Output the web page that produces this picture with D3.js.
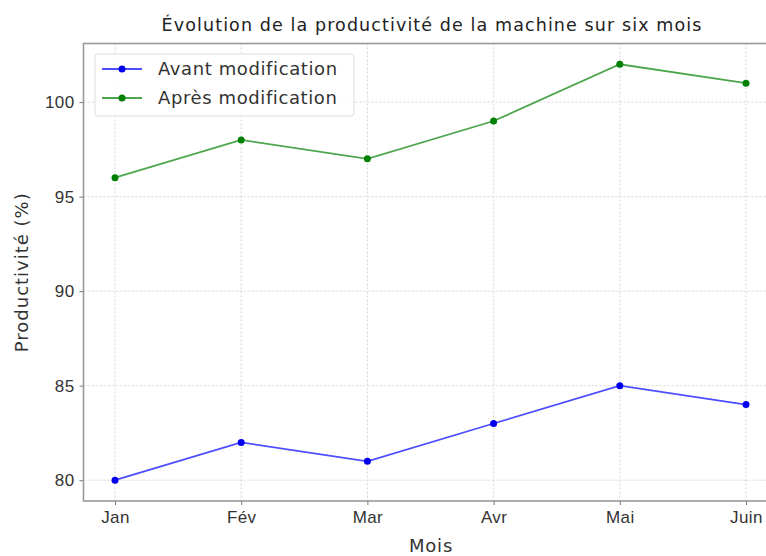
<!DOCTYPE html>
<html>
<head>
<meta charset="utf-8">
<script src="https://cdn.jsdelivr.net/npm/d3@7"></script>
<style>
  body { margin: 0; background: #fff; }
  svg { font-family: "DejaVu Sans", "Noto Sans", sans-serif; }
</style>
</head>
<body>
<div id="chart"></div>
<script>
// data
var months = ["Jan", "Fév", "Mar", "Avr", "Mai", "Juin"]
var avant = [80, 82, 81, 83, 85, 84]
var apres = [96, 98, 97, 99, 102, 101]
var yTicks = [80, 85, 90, 95, 100]

var series = [
  {name: "Avant modification", values: avant, line: "#4d4dff", dot: "#0000ee"},
  {name: "Après modification", values: apres, line: "#4da64d", dot: "#008000"}
]

var W = 766, H = 556
// plot box (window.top is reserved, so use plot* names)
var plotL = 83.5, plotR = 777.5, plotT = 43.5, plotB = 501

var svg = d3.select("#chart").append("svg")
    .attr("width", W)
    .attr("height", H)

// scales
var x = d3.scalePoint().domain(months).range([115, 746])
var y = d3.scaleLinear().domain([78.9, 103.1]).range([plotB, plotT])

// grid
svg.append("g").selectAll("line")
    .data(months)
    .enter().append("line")
    .attr("x1", function(d) { return x(d) }).attr("x2", function(d) { return x(d) })
    .attr("y1", plotT).attr("y2", plotB)
    .style("stroke", "#ccc").style("stroke-width", 0.8).style("stroke-dasharray", "2,2")

svg.append("g").selectAll("line")
    .data(yTicks)
    .enter().append("line")
    .attr("x1", plotL).attr("x2", plotR)
    .attr("y1", function(d) { return y(d) }).attr("y2", function(d) { return y(d) })
    .style("stroke", "#ccc").style("stroke-width", 0.8).style("stroke-dasharray", "2,2")

// axes
var xAxis = svg.append("g")
    .attr("transform", "translate(0," + plotB + ")")
    .call(d3.axisBottom(x).tickSize(4).tickPadding(6))
var yAxis = svg.append("g")
    .attr("transform", "translate(" + plotL + ",0)")
    .call(d3.axisLeft(y).tickValues(yTicks).tickSize(4).tickPadding(5))

;[xAxis, yAxis].forEach(function(a) {
  a.select(".domain").remove()
  a.selectAll(".tick line").style("stroke", "#777")
  a.selectAll(".tick text").style("font-size", "17px").style("fill", "#333")
      .style("letter-spacing", "0.4px")
})

// frame
svg.append("rect")
    .attr("x", plotL).attr("y", plotT)
    .attr("width", plotR - plotL).attr("height", plotB - plotT)
    .style("fill", "none").style("stroke", "#999").style("stroke-width", 1.6)

// lines
var line = d3.line()
    .x(function(d, i) { return x(months[i]) })
    .y(function(d) { return y(d) })

series.forEach(function(s) {
  svg.append("path")
      .datum(s.values)
      .attr("d", line)
      .style("fill", "none").style("stroke", s.line).style("stroke-width", 1.8)
  svg.append("g").selectAll("circle")
      .data(s.values)
      .enter().append("circle")
      .attr("cx", function(d, i) { return x(months[i]) })
      .attr("cy", function(d) { return y(d) })
      .attr("r", 3.5)
      .style("fill", s.dot)
})

// legend
var legend = svg.append("g")
legend.append("rect")
    .attr("x", 95).attr("y", 54).attr("width", 259).attr("height", 62).attr("rx", 3)
    .style("fill", "#fff").style("fill-opacity", 0.8).style("stroke", "#ddd")
series.forEach(function(s, i) {
  var ly = 69 + i * 29
  legend.append("line")
      .attr("x1", 102).attr("x2", 142).attr("y1", ly).attr("y2", ly)
      .style("stroke", s.line).style("stroke-width", 1.8)
  legend.append("circle")
      .attr("cx", 122).attr("cy", ly).attr("r", 3.5).style("fill", s.dot)
  legend.append("text")
      .attr("x", 158).attr("y", ly).attr("dy", "0.35em")
      .style("font-size", "18px").style("fill", "#333")
      .style("letter-spacing", "0.6px")
      .text(s.name)
})

// titles
svg.append("text")
    .attr("x", 432).attr("y", 31)
    .attr("text-anchor", "middle")
    .style("font-size", "17.5px").style("fill", "#222")
    .style("letter-spacing", "1.1px")
    .text("Évolution de la productivité de la machine sur six mois")

svg.append("text")
    .attr("x", 431).attr("y", 552)
    .attr("text-anchor", "middle")
    .style("font-size", "18px").style("fill", "#333")
    .style("letter-spacing", "0.8px")
    .text("Mois")

svg.append("text")
    .attr("transform", "translate(28," + ((plotT + plotB) / 2) + ") rotate(-90)")
    .attr("text-anchor", "middle")
    .style("font-size", "18px").style("fill", "#333")
    .style("letter-spacing", "1px")
    .text("Productivité (%)")
</script>
</body>
</html>
